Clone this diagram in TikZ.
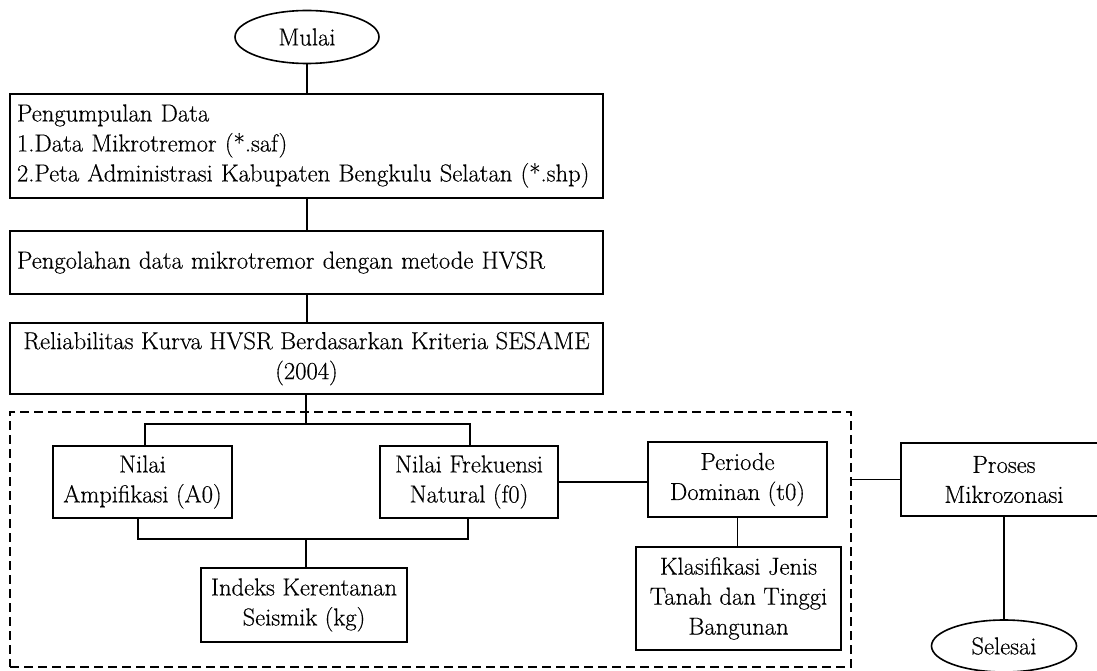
\documentclass[tikz,border=0pt]{standalone}
\usepackage{fontspec}
\setmainfont{Latin Modern Roman}[FakeBold=0.4]
\usetikzlibrary{shapes.geometric}
\tikzset{
  txt/.style={font=\fontsize{24.6}{30}\selectfont},
  box/.style={draw, line width=1.6pt, inner sep=0pt, align=center, txt},
  lbox/.style={draw, line width=1.6pt, inner ysep=0pt, inner xsep=7pt, align=left, text width=579pt, minimum width=593pt, txt},
  term/.style={draw, ellipse, line width=1.6pt, inner sep=0pt, minimum width=144pt, minimum height=53pt, txt},
  grp/.style={draw, dash pattern=on 9pt off 5pt, line width=1.4pt, inner sep=0pt},
  conn/.style={line width=1.6pt}
}
\begin{document}
\begin{tikzpicture}[x=1pt,y=-1pt]
\clip (0,0) rectangle (1097,671);
\fill[white] (0,0) rectangle (1097,671);

\node[term] (mulai) at (307,37) {Mulai};
\node[lbox, minimum height=104pt] (kumpul) at (306.5,146)
  {Pengumpulan Data\\1.Data Mikrotremor (*.saf)\\2.Peta Administrasi Kabupaten Bengkulu Selatan (*.shp)};
\node[lbox, minimum height=63pt] (olah) at (306.5,262.5)
  {Pengolahan data mikrotremor dengan metode HVSR};
\node[box, minimum width=593pt, minimum height=71pt] (reli) at (306.5,358.5)
  {Reliabilitas Kurva HVSR Berdasarkan Kriteria SESAME\\(2004)};

\node[grp, minimum width=841pt, minimum height=255pt] (grup) at (430.5,539.5) {};

\node[box, minimum width=179pt, minimum height=72pt] (amp) at (142.5,482) {Nilai\\Ampifikasi (A0)};
\node[box, minimum width=178pt, minimum height=72pt] (frek) at (469,482) {Nilai Frekuensi\\Natural (f0)};
\node[box, minimum width=179pt, minimum height=75pt] (periode) at (737.5,479.5) {Periode\\Dominan (t0)};
\node[box, minimum width=205pt, minimum height=103pt] (klas) at (738.5,598.5) {Klasifikasi Jenis\\Tanah dan Tinggi\\Bangunan};
\node[box, minimum width=206pt, minimum height=74pt] (indeks) at (304,605) {Indeks Kerentanan\\Seismik (kg)};
\node[box, minimum width=206pt, minimum height=73pt] (proses) at (1004,479.5) {Proses\\Mikrozonasi};
\node[term, minimum width=145pt, minimum height=52pt] (selesai) at (1004,646) {Selesai};

\coordinate (top) at (306,424);
\coordinate (bot) at (306,539);

\draw[conn] (mulai.south) -- (kumpul.north -| mulai.south);
\draw[conn] (kumpul.south -| mulai.south) -- (olah.north -| mulai.south);
\draw[conn] (olah.south -| mulai.south) -- (reli.north -| mulai.south);
\draw[conn] (reli.south -| top) -- (top);
\draw[conn] ([xshift=2.5pt]amp.north) |- (top) -| ([xshift=1pt]frek.north);
\draw[conn] ([xshift=-4.5pt]amp.south) |- (bot) -| ([xshift=-1pt]frek.south);
\draw[conn] (bot) -- (indeks.north -| bot);
\draw[conn] (frek.east) -- (periode.west |- frek.east);
\draw[conn] (periode.south) -- (klas.north -| periode.south);
\draw[conn] (grup.east |- proses.west) -- (proses.west);
\draw[conn] (proses.south) -- (selesai.north);
\end{tikzpicture}
\end{document}
